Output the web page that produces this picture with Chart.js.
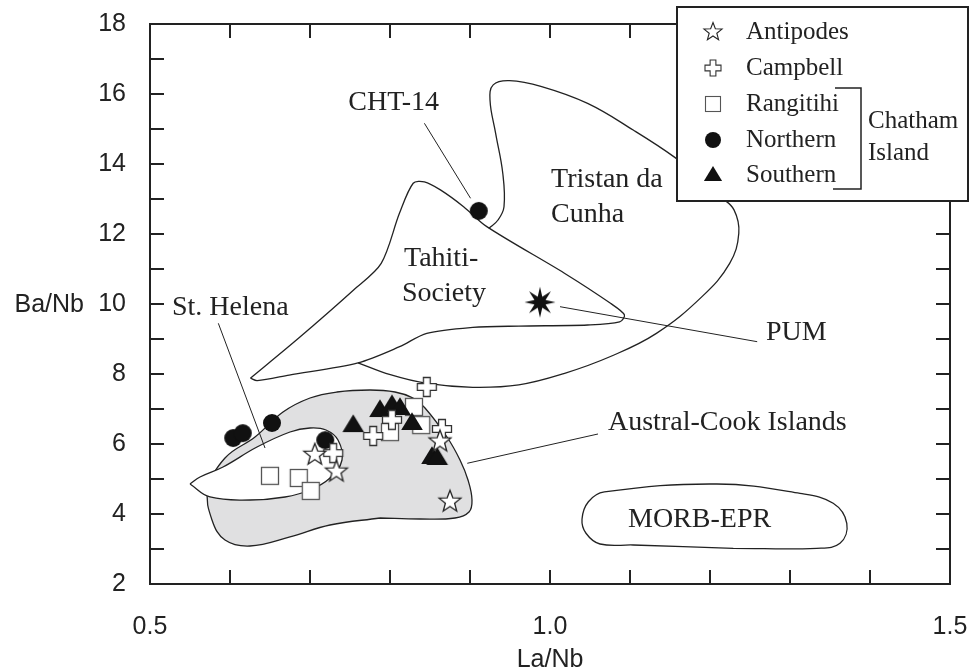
<!DOCTYPE html>
<html>
<head>
<meta charset="UTF-8">
<title>Ba/Nb vs La/Nb</title>
<script src="https://cdn.jsdelivr.net/npm/chart.js"></script>
<style>
  body { margin: 0; background: #fff; }
  #wrap { width: 969px; height: 671px; position: relative; }
</style>
</head>
<body>
<div id="wrap"><canvas id="chart"></canvas></div>
<script>
// ---- data (La/Nb, Ba/Nb) ----
const antipodes = [[0.706, 5.69], [0.733, 5.21], [0.8625, 6.07], [0.875, 4.35]];
const campbell  = [[0.846, 7.63], [0.779, 6.23], [0.8025, 6.69], [0.865, 6.43], [0.729, 5.74]];
const rangitihi = [[0.65, 5.09], [0.686, 5.03], [0.701, 4.66], [0.83, 7.06], [0.839, 6.54], [0.80, 6.34]];
const northern  = [[0.604, 6.17], [0.616, 6.31], [0.6525, 6.6], [0.719, 6.11], [0.911, 12.66]];
const southern  = [[0.754, 6.54], [0.7875, 6.97], [0.8025, 7.11], [0.8125, 7.03], [0.8275, 6.6], [0.8525, 5.63], [0.859, 5.6]];
const pum       = [[0.9875, 10.05]];

// field outlines
const tahitiField = [[0.6255, 7.88], [0.6856, 9.02], [0.7545, 10.4], [0.789, 11.16], [0.8118, 12.59], [0.829, 13.45],
  [0.843, 13.49], [0.863, 13.26], [0.892, 12.78], [0.921, 12.21], [1.018, 10.88], [1.0756, 10.02], [1.093, 9.69],
  [1.087, 9.49], [1.047, 9.4], [0.961, 9.37], [0.9035, 9.33], [0.846, 9.16], [0.812, 8.78], [0.760, 8.32],
  [0.674, 7.97], [0.634, 7.81], [0.6255, 7.88]];
const tristanField = [[0.760, 8.32], [0.8004, 7.98], [0.8462, 7.73], [0.9035, 7.62], [0.9609, 7.69], [1.0183, 8.02],
  [1.0756, 8.5], [1.133, 9.16], [1.190, 10.21], [1.2246, 11.16], [1.236, 12.02], [1.230, 12.69], [1.213, 13.07],
  [1.19, 13.55], [1.156, 14.19], [1.104, 14.97], [1.047, 15.73], [0.9896, 16.21], [0.9494, 16.38], [0.929, 16.26],
  [0.925, 15.83], [0.932, 14.88], [0.941, 13.73], [0.9425, 12.78], [0.935, 12.4], [0.9236, 12.16]];
const stHelenaField = [[0.55, 4.857], [0.575, 4.486], [0.625, 4.4], [0.66875, 4.486], [0.70, 4.686], [0.725, 5.029],
  [0.74, 5.543], [0.735, 6.114], [0.72, 6.4], [0.70, 6.457], [0.675, 6.343], [0.63375, 5.914], [0.59125, 5.343],
  [0.5625, 5.057], [0.55, 4.857]];
const australCookField = [[0.7875, 3.886], [0.725, 3.686], [0.675, 3.343], [0.625, 3.086], [0.59375, 3.257],
  [0.5775, 3.829], [0.5725, 4.686], [0.59375, 5.6], [0.63125, 6.2], [0.66625, 6.914], [0.70, 7.314], [0.73375, 7.486],
  [0.775, 7.543], [0.80625, 7.486], [0.82875, 7.314], [0.84375, 7.029], [0.87125, 6.2], [0.8875, 5.543],
  [0.8975, 4.971], [0.9025, 4.4], [0.89875, 4.057], [0.88125, 3.886], [0.8375, 3.857], [0.7875, 3.886]];
const morbField = [[1.2291, 3.02], [1.104, 3.114], [1.0625, 3.143], [1.045, 3.45], [1.04, 3.85], [1.048, 4.35],
  [1.068, 4.63], [1.2084, 4.857], [1.3125, 4.59], [1.354, 4.306], [1.371, 3.734], [1.3625, 3.163], [1.3334, 3.02],
  [1.2291, 3.02]];

// leader lines
const leaderCHT = [[0.843, 15.163], [0.9007, 13.02]];
const leaderStHelena = [[0.5854, 9.449], [0.64375, 5.886]];
const leaderPUM = [[1.0125, 9.923], [1.259, 8.923]];
const leaderAustral = [[0.8966, 5.449], [1.06, 6.286]];

const xTickLabels = ['0.5', '1.0', '1.5'];
const yTickLabels = ['2', '4', '6', '8', '10', '12', '14', '16', '18'];

const legendNames = ['Antipodes', 'Campbell', 'Rangitihi', 'Northern', 'Southern'];

const toXY = arr => arr.map(p => ({ x: p[0], y: p[1] }));

// ---- marker images ----
function makeMarker(size, draw) {
  const c = document.createElement('canvas');
  c.width = c.height = size;
  draw(c.getContext('2d'), size / 2);
  return c;
}
function starPath(g, cx, cy, n, ro, ri) {
  g.beginPath();
  for (let i = 0; i < 2 * n; i++) {
    const a = -Math.PI / 2 + i * Math.PI / n;
    const r = i % 2 ? ri : ro;
    g.lineTo(cx + r * Math.cos(a), cy + r * Math.sin(a));
  }
  g.closePath();
}
function crossPath(g, cx, cy, e, w) {
  g.beginPath();
  const pts = [[-w, -e], [w, -e], [w, -w], [e, -w], [e, w], [w, w], [w, e], [-w, e], [-w, w], [-e, w], [-e, -w], [-w, -w]];
  pts.forEach(p => g.lineTo(cx + p[0], cy + p[1]));
  g.closePath();
}
function drawStar(g, c, ro, lw) {
  starPath(g, c, c, 5, ro, ro * 0.42);
  g.fillStyle = '#fff'; g.fill();
  g.strokeStyle = '#222'; g.lineWidth = lw; g.stroke();
}
function drawCross(g, c, e, lw) {
  crossPath(g, c, c, e, e * 0.36);
  g.fillStyle = '#fff'; g.fill();
  g.strokeStyle = '#333'; g.lineWidth = lw; g.stroke();
}
function drawSquare(g, c, h, lw) {
  g.fillStyle = '#fff'; g.fillRect(c - h, c - h, 2 * h, 2 * h);
  g.strokeStyle = '#555'; g.lineWidth = lw; g.strokeRect(c - h, c - h, 2 * h, 2 * h);
}
function drawDot(g, c, r) {
  g.beginPath(); g.arc(c, c, r, 0, Math.PI * 2); g.fillStyle = '#111'; g.fill();
}
function drawTri(g, c, r) {
  g.beginPath();
  for (let i = 0; i < 3; i++) {
    const a = -Math.PI / 2 + i * 2 * Math.PI / 3;
    g.lineTo(c + r * Math.cos(a), c + r * 0.95 * Math.sin(a) + 1);
  }
  g.closePath(); g.fillStyle = '#111'; g.fill();
}

const starImg = makeMarker(28, (g, c) => drawStar(g, c, 11.5, 1.3));
const crossImg = makeMarker(24, (g, c) => drawCross(g, c, 9.5, 1.3));
const squareImg = makeMarker(22, (g, c) => drawSquare(g, c, 8.5, 1.3));
const dotImg = makeMarker(22, (g, c) => drawDot(g, c, 9));
const triImg = makeMarker(28, (g, c) => drawTri(g, c, 12.5));
const pumImg = makeMarker(34, (g, c) => {
  starPath(g, c, c, 8, 15.5, 6); g.fillStyle = '#111'; g.fill();
});

const legendImgs = [
  makeMarker(24, (g, c) => drawStar(g, c, 9.5, 1.1)),
  makeMarker(22, (g, c) => drawCross(g, c, 8, 1.1)),
  makeMarker(20, (g, c) => drawSquare(g, c, 7.5, 1.1)),
  makeMarker(20, (g, c) => drawDot(g, c, 8)),
  makeMarker(24, (g, c) => drawTri(g, c, 10.5))
];

// ---- datasets ----
function field(data, opts) {
  return Object.assign({
    data: toXY(data), showLine: true, pointRadius: 0, pointHoverRadius: 0,
    borderColor: '#222', borderWidth: 1.3, tension: 0.4, fill: false, order: 50
  }, opts);
}
function markers(data, img, order) {
  return { data: toXY(data), pointStyle: img, pointRadius: 10, showLine: false, order: order };
}

const datasets = [
  field(australCookField, { fill: 'shape', backgroundColor: '#e0e0e1', order: 60 }),
  field(stHelenaField, { fill: 'shape', backgroundColor: '#ffffff', order: 55 }),
  field(tahitiField, { tension: 0.3 }),
  field(tristanField, {}),
  field(morbField, {}),
  field(leaderCHT, { tension: 0, borderWidth: 1 }),
  field(leaderStHelena, { tension: 0, borderWidth: 1 }),
  field(leaderPUM, { tension: 0, borderWidth: 1 }),
  field(leaderAustral, { tension: 0, borderWidth: 1 }),
  markers(rangitihi, squareImg, 10),
  markers(southern, triImg, 9),
  markers(northern, dotImg, 8),
  markers(campbell, crossImg, 7),
  markers(antipodes, starImg, 6),
  markers(pum, pumImg, 5)
];

// annotation texts in data units
const notes = [
  { t: 'CHT-14', x: 0.8046, y: 15.74, align: 'center' },
  { t: 'Tristan da', x: 1.0013, y: 13.54, align: 'left' },
  { t: 'Cunha', x: 1.0013, y: 12.54, align: 'left' },
  { t: 'Tahiti-', x: 0.8175, y: 11.31, align: 'left' },
  { t: 'Society', x: 0.815, y: 10.31, align: 'left' },
  { t: 'St. Helena', x: 0.5275, y: 9.89, align: 'left' },
  { t: 'PUM', x: 1.27, y: 9.17, align: 'left' },
  { t: 'Austral-Cook Islands', x: 1.0725, y: 6.6, align: 'left' },
  { t: 'MORB-EPR', x: 1.0975, y: 3.83, align: 'left' }
];

const overlay = {
  id: 'overlay',
  afterDraw(chart) {
    const { ctx, chartArea: a, scales: { x, y } } = chart;
    ctx.save();
    // inward ticks on all four sides
    ctx.strokeStyle = '#222';
    ctx.lineWidth = 2;
    ctx.beginPath();
    x.ticks.forEach(t => {
      const px = Math.round(x.getPixelForValue(t.value));
      ctx.moveTo(px, a.bottom); ctx.lineTo(px, a.bottom - 14);
      ctx.moveTo(px, a.top); ctx.lineTo(px, a.top + 14);
    });
    y.ticks.forEach(t => {
      const py = Math.round(y.getPixelForValue(t.value));
      ctx.moveTo(a.left, py); ctx.lineTo(a.left + 14, py);
      ctx.moveTo(a.right, py); ctx.lineTo(a.right - 14, py);
    });
    ctx.stroke();
    ctx.strokeRect(a.left, a.top, a.right - a.left, a.bottom - a.top);

    // field labels
    ctx.fillStyle = '#222';
    ctx.font = '28px "Liberation Serif", "Times New Roman", serif';
    ctx.textBaseline = 'middle';
    notes.forEach(n => {
      ctx.textAlign = n.align;
      ctx.fillText(n.t, x.getPixelForValue(n.x), y.getPixelForValue(n.y));
    });

    // axis titles
    ctx.font = '25px "Liberation Sans", Arial, sans-serif';
    ctx.textAlign = 'center';
    ctx.fillText('La/Nb', (a.left + a.right) / 2, 660);
    ctx.textAlign = 'right';
    ctx.fillText('Ba/Nb', 84, y.getPixelForValue(10) + 1);

    // legend box
    ctx.fillStyle = '#fff';
    ctx.fillRect(677, 7, 291, 194);
    ctx.lineWidth = 2;
    ctx.strokeStyle = '#222';
    ctx.strokeRect(677, 7, 291, 194);
    ctx.font = '25px "Liberation Serif", "Times New Roman", serif';
    ctx.fillStyle = '#222';
    ctx.textAlign = 'left';
    const rows = [32, 68, 104, 140, 175];
    legendNames.forEach((name, i) => {
      const img = legendImgs[i];
      ctx.drawImage(img, 713 - img.width / 2, rows[i] - img.height / 2);
      ctx.fillText(name, 746, rows[i]);
    });
    ctx.lineWidth = 1.5;
    ctx.beginPath();
    ctx.moveTo(835, 88); ctx.lineTo(861, 88); ctx.lineTo(861, 189); ctx.lineTo(833, 189);
    ctx.stroke();
    ctx.fillText('Chatham', 868, 121);
    ctx.fillText('Island', 868, 153);
    ctx.restore();
  }
};

Chart.defaults.font.family = '"Liberation Sans", Arial, sans-serif';
Chart.defaults.font.size = 25;
Chart.defaults.color = '#222';

new Chart(document.getElementById('chart'), {
  type: 'scatter',
  data: { datasets },
  options: {
    responsive: true,
    maintainAspectRatio: false,
    animation: false,
    layout: { padding: { top: 24, right: 19, left: 0, bottom: 0 } },
    plugins: { legend: { display: false }, tooltip: { enabled: false } },
    scales: {
      x: {
        type: 'linear', min: 0.5, max: 1.5,
        grid: { display: false }, border: { display: false },
        ticks: {
          stepSize: 0.1, autoSkip: false, maxRotation: 0, padding: 20,
          callback: v => {
            const s = v.toFixed(1);
            return xTickLabels.includes(s) && Math.abs(v - parseFloat(s)) < 1e-6 ? s : '';
          }
        },
        afterFit: s => { s.height = 87; s.paddingLeft = 0; s.paddingRight = 0; }
      },
      y: {
        type: 'linear', min: 2, max: 18,
        grid: { display: false }, border: { display: false },
        ticks: {
          stepSize: 1, autoSkip: false, padding: 16,
          callback: v => yTickLabels.includes(String(v)) ? String(v) : ''
        },
        afterFit: s => { s.width = 150; s.paddingTop = 0; s.paddingBottom = 0; }
      }
    }
  },
  plugins: [overlay]
});
</script>
</body>
</html>
